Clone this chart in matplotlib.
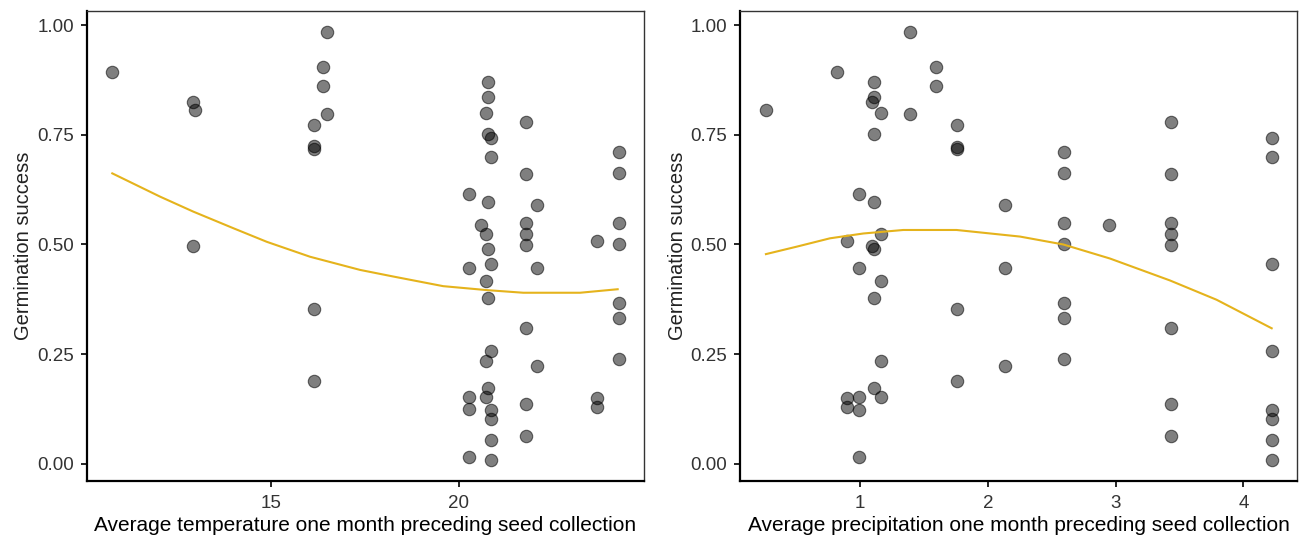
import matplotlib
matplotlib.use("Agg")
import matplotlib.pyplot as plt

plt.rcParams['font.family'] = ['Liberation Sans', 'DejaVu Sans']

# ---- data ----
temperature = [10.78, 12.92, 12.99, 12.92, 16.49, 16.39, 16.39, 16.50, 16.15, 16.15, 16.15, 16.15, 16.15,
               20.76, 20.76, 20.72, 20.76, 20.84, 20.84, 20.27, 20.76, 20.59, 20.72, 20.76, 20.84, 20.27,
               20.72, 20.76, 20.84, 20.72, 20.76, 20.72, 20.27, 20.27, 20.84, 20.84, 20.84, 20.27, 20.84,
               21.77, 21.77, 21.77, 21.77, 21.77, 21.77, 21.77, 21.77,
               22.08, 22.08, 22.08,
               23.68, 23.68, 23.68,
               24.26, 24.26, 24.26, 24.26, 24.26, 24.26, 24.26]
germ_temp = [0.892, 0.825, 0.806, 0.497, 0.983, 0.904, 0.861, 0.797, 0.773, 0.725, 0.718, 0.353, 0.188,
             0.871, 0.837, 0.800, 0.752, 0.743, 0.700, 0.615, 0.597, 0.544, 0.523, 0.490, 0.456, 0.447,
             0.417, 0.377, 0.258, 0.234, 0.174, 0.153, 0.152, 0.125, 0.123, 0.102, 0.055, 0.015, 0.008,
             0.779, 0.661, 0.548, 0.523, 0.498, 0.309, 0.136, 0.064,
             0.591, 0.447, 0.222,
             0.509, 0.150, 0.129,
             0.711, 0.663, 0.548, 0.501, 0.367, 0.332, 0.240]

precipitation = [0.264, 0.822, 1.391, 1.112, 1.112, 1.091, 1.162, 1.112, 1.391, 1.592, 1.592, 1.756, 1.756, 1.756,
                 0.995, 1.112, 2.132, 1.162, 0.896, 1.091, 1.112, 0.995, 2.132, 1.162, 1.112, 1.756,
                 1.162, 2.132, 1.756, 1.112, 1.162, 0.896, 0.995, 0.896, 0.995, 0.995,
                 2.596, 2.596, 2.596, 2.596, 2.596, 2.596, 2.596,
                 2.948,
                 3.431, 3.431, 3.431, 3.431, 3.431, 3.431, 3.431, 3.431,
                 4.227, 4.227, 4.227, 4.227, 4.227, 4.227, 4.227, 4.227]
germ_prec = [0.806, 0.892, 0.983, 0.871, 0.837, 0.825, 0.800, 0.752, 0.797, 0.904, 0.861, 0.773, 0.723, 0.718,
             0.615, 0.597, 0.591, 0.523, 0.509, 0.497, 0.490, 0.447, 0.447, 0.417, 0.377, 0.353,
             0.234, 0.222, 0.188, 0.174, 0.153, 0.150, 0.152, 0.129, 0.123, 0.015,
             0.711, 0.663, 0.548, 0.501, 0.367, 0.332, 0.240,
             0.544,
             0.779, 0.661, 0.548, 0.523, 0.498, 0.309, 0.136, 0.064,
             0.743, 0.700, 0.456, 0.258, 0.123, 0.102, 0.055, 0.008]

# smoothed trend lines
smooth_temp_x = [10.78, 12.05, 12.93, 14.00, 14.89, 16.04, 17.37, 18.25, 19.58, 20.74, 21.71, 23.22, 24.22]
smooth_temp_y = [0.662, 0.609, 0.575, 0.537, 0.506, 0.472, 0.442, 0.427, 0.405, 0.396, 0.390, 0.390, 0.398]
smooth_prec_x = [0.264, 0.505, 0.765, 1.026, 1.339, 1.756, 2.252, 2.591, 2.956, 3.426, 3.791, 4.222]
smooth_prec_y = [0.478, 0.495, 0.514, 0.525, 0.533, 0.533, 0.518, 0.500, 0.468, 0.418, 0.374, 0.309]

y_ticks = [0.00, 0.25, 0.50, 0.75, 1.00]
y_ticklabels = ["0.00", "0.25", "0.50", "0.75", "1.00"]
temp_ticks = [15, 20]
prec_ticks = [1, 2, 3, 4]

line_color = '#E5B31C'

fig = plt.figure(figsize=(13.06, 5.38), dpi=100)
ax1 = fig.add_axes([0.0664, 0.1059, 0.4267, 0.8737])
ax2 = fig.add_axes([0.5666, 0.1059, 0.4265, 0.8737])

panels = [
    (ax1, temperature, germ_temp, smooth_temp_x, smooth_temp_y, temp_ticks, (10.10, 24.92),
     "Average temperature one month preceding seed collection"),
    (ax2, precipitation, germ_prec, smooth_prec_x, smooth_prec_y, prec_ticks, (0.061, 4.42),
     "Average precipitation one month preceding seed collection"),
]

for ax, xs, ys, sx, sy, xt, xlim, xlabel in panels:
    ax.scatter(xs, ys, s=80, facecolor=(0, 0, 0, 0.5), edgecolor=(0, 0, 0, 0.55), linewidths=0.8, zorder=2)
    ax.plot(sx, sy, color=line_color, lw=1.5, zorder=3)
    ax.set_xlim(*xlim)
    ax.set_ylim(-0.039, 1.032)
    ax.set_xticks(xt)
    ax.set_xticklabels([str(t) for t in xt])
    ax.set_yticks(y_ticks)
    ax.set_yticklabels(y_ticklabels)
    ax.tick_params(axis='both', labelsize=13.5, colors='black', labelcolor='#333333', length=4, width=1.2)
    ax.tick_params(axis='x', pad=6)
    ax.tick_params(axis='y', pad=5)
    ax.set_xlabel(xlabel, fontsize=15, color='black', labelpad=3)
    ax.set_ylabel("Germination success", fontsize=14.5, color='#222222', labelpad=3)
    for side in ['left', 'bottom']:
        ax.spines[side].set_linewidth(1.6)
        ax.spines[side].set_color('black')
    for side in ['top', 'right']:
        ax.spines[side].set_linewidth(1.0)
        ax.spines[side].set_color('#333333')

fig.savefig("out.png", dpi=100)
